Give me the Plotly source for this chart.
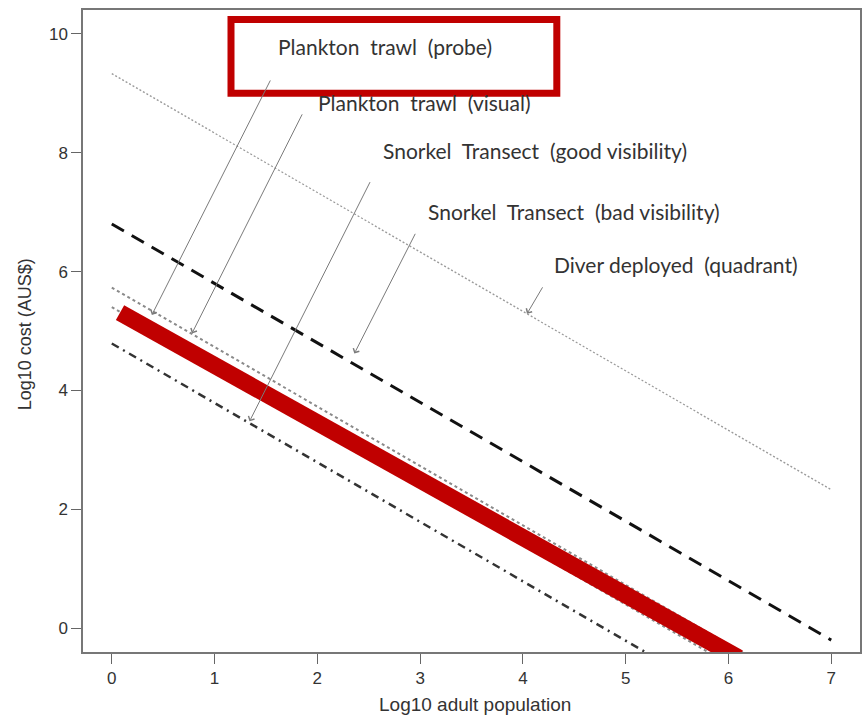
import plotly.graph_objects as go

# ---- data ----
x_ends = [0, 7]
diver_quadrant = [9.33, 2.33]
snorkel_bad = [6.8, -0.2]
plankton_visual = [5.73, -1.27]
plankton_probe = [5.4, -1.6]
snorkel_good = [4.79, -2.21]

highlight_x = [0.08, 6.1]
highlight_y = [5.31, -0.5]

x_ticks = [0, 1, 2, 3, 4, 5, 6, 7]
y_ticks = [0, 2, 4, 6, 8, 10]

labels = ["Plankton  trawl  (probe)", "Plankton  trawl  (visual)",
          "Snorkel  Transect  (good visibility)", "Snorkel  Transect  (bad visibility)",
          "Diver deployed  (quadrant)"]
label_x = [2.66, 3.04, 4.12, 4.50, 5.49]
label_y = [9.78, 8.84, 8.03, 7.01, 6.12]
arrow_tail_x = [1.55, 1.86, 2.52, 2.96, 4.20]
arrow_tail_y = [9.24, 8.67, 7.53, 6.66, 5.76]
arrow_head_x = [0.39, 0.78, 1.34, 2.36, 4.04]
arrow_head_y = [5.27, 4.96, 3.48, 4.62, 5.29]

x_title = "Log10 adult population"
y_title = "Log10 cost (AUS$)"

fig = go.Figure()
fig.add_trace(go.Scatter(x=x_ends, y=diver_quadrant, mode="lines",
                         line=dict(color="#9a9a9a", width=1.3, dash="2px,2px")))
fig.add_trace(go.Scatter(x=x_ends, y=snorkel_bad, mode="lines",
                         line=dict(color="#111111", width=3, dash="14px,9px")))
fig.add_trace(go.Scatter(x=x_ends, y=plankton_visual, mode="lines",
                         line=dict(color="#8a8a8a", width=2, dash="3px,3px")))
fig.add_trace(go.Scatter(x=x_ends, y=plankton_probe, mode="lines",
                         line=dict(color="#8a8a8a", width=2, dash="3px,3px")))
fig.add_trace(go.Scatter(x=x_ends, y=snorkel_good, mode="lines",
                         line=dict(color="#333333", width=2.5, dash="8px,5px,2px,5px")))
fig.add_trace(go.Scatter(x=highlight_x, y=highlight_y, mode="lines",
                         line=dict(color="#C00000", width=17)))

for i in range(len(labels)):
    fig.add_annotation(x=label_x[i], y=label_y[i], text=labels[i], showarrow=False,
                       xanchor="center", yanchor="middle",
                       font=dict(family="Lato, Open Sans, sans-serif", size=21, color="#333333"))
    fig.add_annotation(x=arrow_head_x[i], y=arrow_head_y[i], ax=arrow_tail_x[i], ay=arrow_tail_y[i],
                       axref="x", ayref="y", text="", showarrow=True,
                       arrowhead=4, arrowsize=1.3, arrowwidth=1, arrowcolor="#7a7a7a", standoff=0)

# axis titles
fig.add_annotation(xref="paper", yref="paper", x=0.505, y=-0.081, text=x_title,
                   showarrow=False, xanchor="center", yanchor="middle",
                   font=dict(family="Liberation Sans, Arial, sans-serif", size=19, color="#333333"))
fig.add_annotation(xref="paper", yref="paper", x=-0.0745, y=0.495, text=y_title,
                   showarrow=False, xanchor="center", yanchor="middle", textangle=-90,
                   font=dict(family="Liberation Sans, Arial, sans-serif", size=18, color="#333333"))

# highlight box around the first label
fig.add_shape(type="rect", xref="x", yref="y", x0=1.16, x1=4.33, y0=9.0, y1=10.24,
              line=dict(color="#C00000", width=7))

fig.update_layout(
    width=862, height=718,
    margin=dict(l=83, r=0, t=10, b=66),
    paper_bgcolor="white", plot_bgcolor="white",
    showlegend=False,
    font=dict(family="Liberation Sans, Arial, sans-serif", size=18, color="#333333"),
)
fig.update_xaxes(range=[-0.28, 7.28], tickvals=x_ticks, ticks="outside", ticklen=10,
                 tickcolor="#666666", showline=True, linecolor="#777777", linewidth=1.5,
                 mirror=True, showgrid=False, zeroline=False,
                 tickfont=dict(size=17, color="#333333"))
fig.update_yaxes(range=[-0.4, 10.4], tickvals=y_ticks, ticks="outside", ticklen=10,
                 tickcolor="#666666", showline=True, linecolor="#777777", linewidth=1.5,
                 mirror=True, showgrid=False, zeroline=False,
                 tickfont=dict(size=17, color="#333333"))

fig.write_html("out.html", config={"displayModeBar": False},
               post_script="document.body.style.margin='0';document.body.style.overflow='hidden';")
